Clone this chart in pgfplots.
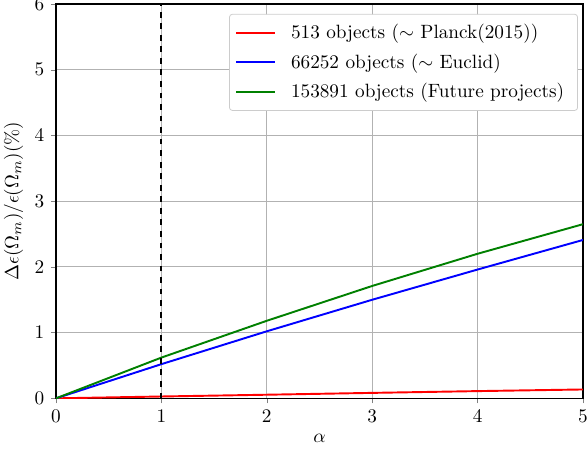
\documentclass[border=0pt]{standalone}
\usepackage{pgfplots}
\pgfplotsset{compat=1.18}
\definecolor{mplgreen}{RGB}{0,128,0}
\begin{document}
\begin{tikzpicture}
\begin{axis}[
  scale only axis,
  width=274pt, height=205pt,
  xmin=0, xmax=5, ymin=0, ymax=6,
  xtick={0,1,2,3,4,5}, ytick={0,1,2,3,4,5,6},
  tick align=outside,
  tick pos=left,
  major tick length=2.6pt,
  grid=major,
  grid style={color=black!30, line width=0.45pt},
  axis line style={line width=0.6pt},
  xlabel={$\alpha$},
  ylabel={$\Delta\epsilon(\Omega_m)/\epsilon(\Omega_m)(\%)$},
  xlabel style={yshift=1pt},
  ylabel style={yshift=-1pt},
  legend cell align=left,
  legend image code/.code={%
    \draw[#1, line width=1pt] (0pt,0pt) -- (20pt,0pt);
    \path (24pt,0pt);},
  legend style={at={(0.9905,0.975)}, anchor=north east,
    draw=black!20, rounded corners=1.5pt, fill=white,
    inner xsep=3pt, inner ysep=3pt, row sep=2.5pt, font=\normalsize,
    nodes={inner xsep=4pt}},
]
\addplot[red, line width=1pt] coordinates {(0,0) (1,0.028) (2,0.055) (3,0.083) (4,0.11) (5,0.135)};
\addlegendentry{513 objects ($\sim$ Planck(2015))}
\addplot[blue, line width=1pt] coordinates {(0,0) (1,0.52) (2,1.02) (3,1.5) (4,1.96) (5,2.41)};
\addlegendentry{66252 objects ($\sim$ Euclid)}
\addplot[mplgreen, line width=1pt] coordinates {(0,0) (1,0.62) (2,1.18) (3,1.71) (4,2.2) (5,2.65)};
\addlegendentry{153891 objects (Future projects)}
\draw[black, dashed, line width=1pt] (axis cs:1,0) -- (axis cs:1,6);
\coordinate (bl) at (rel axis cs:0,0);
\coordinate (tr) at (rel axis cs:1,1);
\end{axis}
% page frame: tight around axis with room for labels
\pgfresetboundingbox
\path ([xshift=-29.1pt,yshift=-28.6pt]bl) rectangle ([xshift=2.1pt,yshift=2.1pt]tr);
\end{tikzpicture}
\end{document}
